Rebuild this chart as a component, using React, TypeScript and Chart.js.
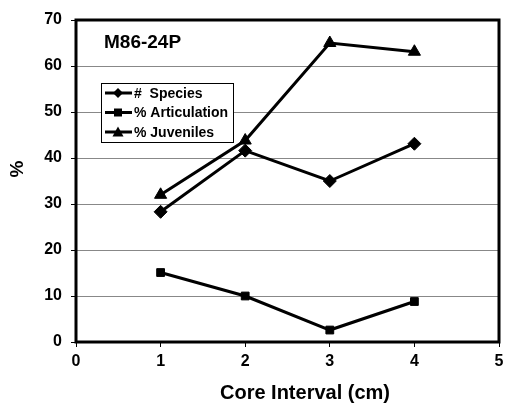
import React, { useEffect, useRef } from "react";
import { Chart, registerables } from "chart.js";

Chart.register(...registerables);

const intervals = [1, 2, 3, 4];
const speciesPct = [28.3, 41.6, 35, 43.1];
const articulationPct = [15.1, 10, 2.6, 8.8];
const juvenilesPct = [32, 43.8, 65, 63.1];
const yTicks = [0, 10, 20, 30, 40, 50, 60, 70];
const xTicks = [0, 1, 2, 3, 4, 5];

const FONT = "Arial, 'Liberation Sans', Helvetica, sans-serif";

const seriesStyles = [
  { label: "#  Species", data: speciesPct, pointStyle: "rectRot", radius: 6.5, legendRadius: 5 },
  { label: "% Articulation", data: articulationPct, pointStyle: "rect", radius: 5.5, legendRadius: 4 },
  { label: "% Juveniles", data: juvenilesPct, pointStyle: "triangle", radius: 7, legendRadius: 5.5 },
];

// Frame, panel label, inset legend and axis titles.
const decorations = {
  id: "decorations",
  afterDraw(chart: any) {
    const { ctx, chartArea } = chart;
    const { left, right, top, bottom } = chartArea;
    ctx.save();
    ctx.strokeStyle = "#000";
    ctx.lineWidth = 3;
    ctx.strokeRect(left, top, right - left, bottom - top);

    ctx.fillStyle = "#000";
    ctx.font = `bold 19px ${FONT}`;
    ctx.textBaseline = "middle";
    ctx.textAlign = "left";
    ctx.fillText("M86-24P", 104, 43);

    const bx = 101, by = 83, bw = 132, bh = 59;
    ctx.fillStyle = "#fff";
    ctx.fillRect(bx, by, bw, bh);
    ctx.lineWidth = 1;
    ctx.strokeStyle = "#000";
    ctx.strokeRect(bx + 0.5, by + 0.5, bw, bh);
    chart.data.datasets.forEach((ds: any, i: number) => {
      const y = by + 10 + i * 19.5;
      ctx.lineWidth = 3;
      ctx.beginPath();
      ctx.moveTo(105, y);
      ctx.lineTo(132, y);
      ctx.stroke();
      const r = ds.legendRadius;
      const cx = 118;
      ctx.fillStyle = "#000";
      ctx.beginPath();
      if (ds.pointStyle === "rect") {
        ctx.rect(cx - r, y - r, 2 * r, 2 * r);
      } else if (ds.pointStyle === "rectRot") {
        ctx.moveTo(cx, y - r);
        ctx.lineTo(cx + r, y);
        ctx.lineTo(cx, y + r);
        ctx.lineTo(cx - r, y);
        ctx.closePath();
      } else {
        ctx.moveTo(cx, y - r);
        ctx.lineTo(cx + r, y + r - 1);
        ctx.lineTo(cx - r, y + r - 1);
        ctx.closePath();
      }
      ctx.fill();
      ctx.font = `bold 14px ${FONT}`;
      ctx.textAlign = "left";
      ctx.fillText(ds.label, 134, y + 1);
    });

    ctx.font = `bold 20px ${FONT}`;
    ctx.textAlign = "center";
    ctx.fillText("Core Interval (cm)", 305, 393);
    ctx.translate(18, 169);
    ctx.rotate(-Math.PI / 2);
    ctx.font = `bold 19px ${FONT}`;
    ctx.fillText("%", 0, 0);
    ctx.restore();
  },
};

export default function App() {
  const canvasRef = useRef<HTMLCanvasElement | null>(null);

  useEffect(() => {
    document.body.style.margin = "0";
    const canvas = canvasRef.current;
    if (!canvas) return;
    const chart = new Chart(canvas, {
      type: "line",
      data: {
        datasets: seriesStyles.map((s) => ({
          label: s.label,
          data: s.data.map((v, i) => ({ x: intervals[i], y: v })),
          borderColor: "#000",
          backgroundColor: "#000",
          borderWidth: 3,
          pointStyle: s.pointStyle as any,
          pointRadius: s.radius,
          pointBorderWidth: 1,
          pointBackgroundColor: "#000",
          pointBorderColor: "#000",
          tension: 0,
          legendRadius: s.legendRadius,
        })) as any,
      },
      options: {
        responsive: false,
        animation: false,
        layout: { padding: { top: 20, right: 5, left: 0, bottom: 0 } },
        plugins: {
          legend: { display: false },
          tooltip: { enabled: false },
        },
        scales: {
          x: {
            type: "linear",
            min: 0,
            max: 5,
            afterBuildTicks: (scale: any) => {
              scale.ticks = xTicks.map((v) => ({ value: v }));
            },
            afterFit: (scale: any) => {
              scale.height = 61;
              scale.paddingLeft = 0;
              scale.paddingRight = 0;
            },
            grid: {
              drawOnChartArea: false,
              drawTicks: true,
              tickLength: 5,
              tickColor: "#000",
              lineWidth: 1,
            },
            border: { display: false },
            ticks: {
              color: "#000",
              font: { family: FONT, size: 16, weight: "bold" },
              padding: 5,
              maxRotation: 0,
            },
          },
          y: {
            min: 0,
            max: 70,
            afterBuildTicks: (scale: any) => {
              scale.ticks = yTicks.map((v) => ({ value: v }));
            },
            afterFit: (scale: any) => {
              scale.width = 76;
              scale.paddingTop = 0;
              scale.paddingBottom = 0;
            },
            grid: {
              color: "#888",
              lineWidth: 1,
              drawTicks: true,
              tickLength: 5,
              tickColor: "#000",
            },
            border: { display: false },
            ticks: {
              color: "#000",
              font: { family: FONT, size: 16, weight: "bold" },
              padding: 9,
            },
          },
        },
      },
      plugins: [decorations],
    });
    return () => chart.destroy();
  }, []);

  return (
    <div style={{ position: "absolute", left: 0, top: 0, width: 507, height: 403, background: "#fff" }}>
      <canvas ref={canvasRef} width={507} height={403} />
    </div>
  );
}
